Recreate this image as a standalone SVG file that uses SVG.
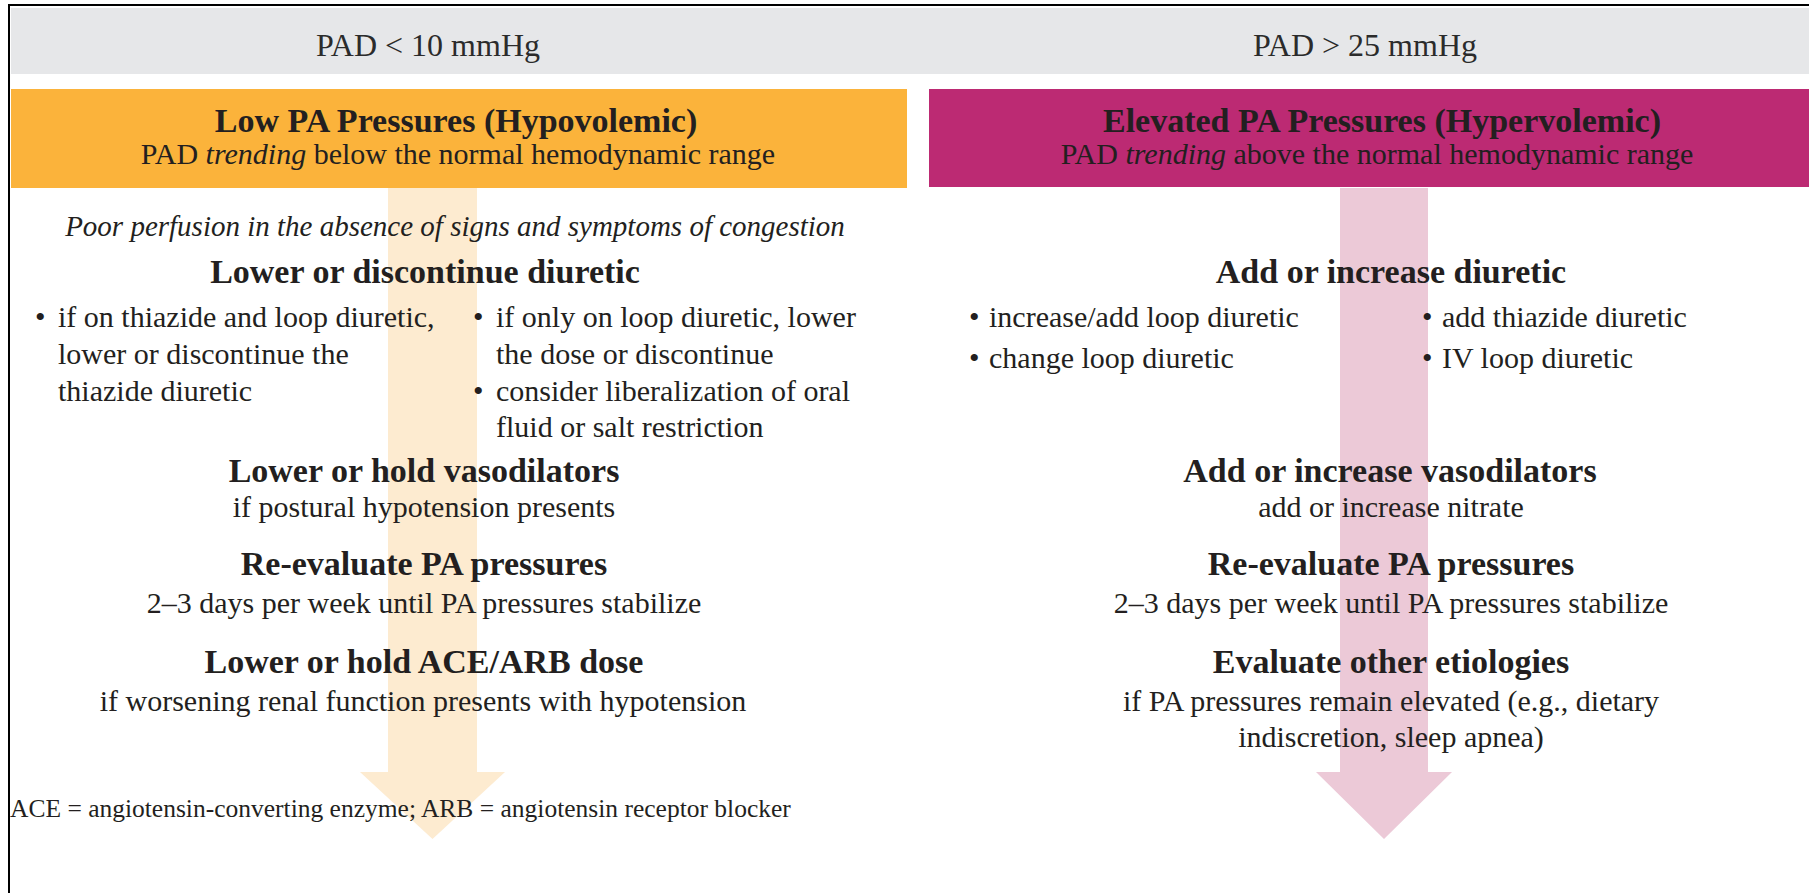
<svg xmlns="http://www.w3.org/2000/svg" width="1809" height="893" viewBox="0 0 1809 893">
  <style>
    text { font-family: "Liberation Serif", "Times New Roman", serif; fill: #231f20; }
    .hdr { font-size: 32px; text-anchor: middle; fill: #2b2b2b; }
    .title { font-size: 34px; font-weight: bold; text-anchor: middle; }
    .sub { font-size: 30px; text-anchor: middle; }
    .step { font-size: 34px; font-weight: bold; text-anchor: middle; }
    .note { font-size: 30px; text-anchor: middle; }
    .lead { font-size: 29px; font-style: italic; text-anchor: middle; }
    .item { font-size: 30px; }
    .foot { font-size: 25.5px; }
  </style>

  <!-- page background and frame -->
  <rect x="0" y="0" width="1809" height="893" fill="#ffffff"/>
  <path d="M9 893 V5 H1809" fill="none" stroke="#000000" stroke-width="2"/>

  <!-- pressure threshold band -->
  <g id="threshold-band">
    <rect x="11" y="8" width="1798" height="66" fill="#e6e7e9"/>
    <text class="hdr" x="428" y="56">PAD &lt; 10 mmHg</text>
    <text class="hdr" x="1365" y="56">PAD &gt; 25 mmHg</text>
  </g>

  <!-- flow arrows -->
  <g id="connectors">
    <polygon points="388,188 477,188 477,772 505,772 432.5,839 360,772 388,772" fill="#fdebd0"/>
    <polygon points="1340,188 1428,188 1428,772 1452,772 1384,839 1316,772 1340,772" fill="#ecc9d7"/>
  </g>

  <!-- hypovolemic branch -->
  <g id="low-header">
    <rect x="11" y="89" width="896" height="99" fill="#fbb33b"/>
    <text class="title" x="456" y="132">Low PA Pressures (Hypovolemic)</text>
    <text class="sub" x="458" y="164">PAD <tspan font-style="italic">trending</tspan> below the normal hemodynamic range</text>
  </g>

  <g id="low-context">
    <text class="lead" x="455" y="236">Poor perfusion in the absence of signs and symptoms of congestion</text>
  </g>

  <g id="low-diuretic">
    <text class="step" x="425" y="283">Lower or discontinue diuretic</text>
    <text class="item" x="35" y="327">•</text>
    <text class="item" x="58" y="327">if on thiazide and loop diuretic,</text>
    <text class="item" x="58" y="364">lower or discontinue the</text>
    <text class="item" x="58" y="401">thiazide diuretic</text>
    <text class="item" x="473" y="327">•</text>
    <text class="item" x="496" y="327">if only on loop diuretic, lower</text>
    <text class="item" x="496" y="364">the dose or discontinue</text>
    <text class="item" x="473" y="401">•</text>
    <text class="item" x="496" y="401">consider liberalization of oral</text>
    <text class="item" x="496" y="437">fluid or salt restriction</text>
  </g>

  <g id="low-vasodilators">
    <text class="step" x="424" y="482">Lower or hold vasodilators</text>
    <text class="note" x="424" y="517">if postural hypotension presents</text>
  </g>

  <g id="low-reevaluate">
    <text class="step" x="424" y="575">Re-evaluate PA pressures</text>
    <text class="note" x="424" y="613">2–3 days per week until PA pressures stabilize</text>
  </g>

  <g id="low-acearb">
    <text class="step" x="424" y="673">Lower or hold ACE/ARB dose</text>
    <text class="note" x="423" y="711">if worsening renal function presents with hypotension</text>
  </g>

  <g id="abbreviations">
    <text class="foot" x="10" y="817">ACE = angiotensin-converting enzyme; ARB = angiotensin receptor blocker</text>
  </g>

  <!-- hypervolemic branch -->
  <g id="high-header">
    <rect x="929" y="89" width="880" height="98" fill="#bc2a73"/>
    <text class="title" x="1382" y="132">Elevated PA Pressures (Hypervolemic)</text>
    <text class="sub" x="1377" y="164">PAD <tspan font-style="italic">trending</tspan> above the normal hemodynamic range</text>
  </g>

  <g id="high-diuretic">
    <text class="step" x="1391" y="283">Add or increase diuretic</text>
    <text class="item" x="969" y="327">•</text>
    <text class="item" x="989" y="327">increase/add loop diuretic</text>
    <text class="item" x="969" y="368">•</text>
    <text class="item" x="989" y="368">change loop diuretic</text>
    <text class="item" x="1422" y="327">•</text>
    <text class="item" x="1442" y="327">add thiazide diuretic</text>
    <text class="item" x="1422" y="368">•</text>
    <text class="item" x="1442" y="368">IV loop diuretic</text>
  </g>

  <g id="high-vasodilators">
    <text class="step" x="1390" y="482">Add or increase vasodilators</text>
    <text class="note" x="1391" y="517">add or increase nitrate</text>
  </g>

  <g id="high-reevaluate">
    <text class="step" x="1391" y="575">Re-evaluate PA pressures</text>
    <text class="note" x="1391" y="613">2–3 days per week until PA pressures stabilize</text>
  </g>

  <g id="high-etiologies">
    <text class="step" x="1391" y="673">Evaluate other etiologies</text>
    <text class="note" x="1391" y="711">if PA pressures remain elevated (e.g., dietary</text>
    <text class="note" x="1391" y="747">indiscretion, sleep apnea)</text>
  </g>
</svg>
